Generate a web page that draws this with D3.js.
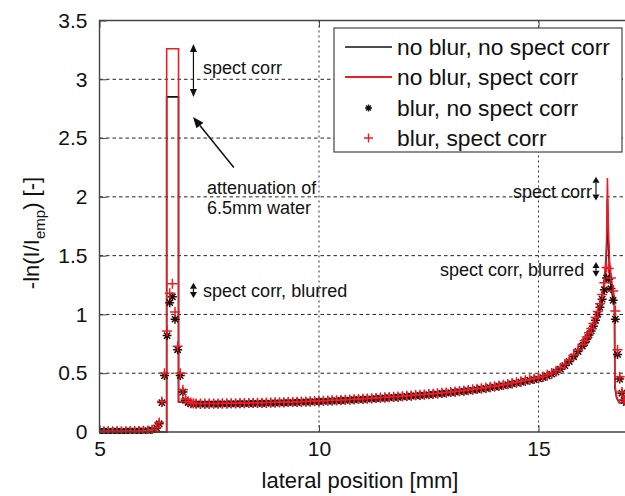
<!DOCTYPE html>
<html><head><meta charset="utf-8">
<script src="https://cdn.jsdelivr.net/npm/d3@7"></script>
<style>html,body{margin:0;padding:0;background:#fff;}svg{display:block;}text{font-family:"Liberation Sans",Arial,Helvetica,sans-serif;fill:#111;}</style>
</head><body>
<script>
// ---- data ----
const xTicks = [5, 10, 15];
const yTicks = [0, 0.5, 1, 1.5, 2, 2.5, 3, 3.5];
const xGrid = [10, 15];
const yGrid = [0.5, 1, 1.5, 2, 2.5, 3];
const seriesNames = ["no blur, no spect corr", "no blur, spect corr", "blur, no spect corr", "blur, spect corr"];

// unblurred profiles (lines)
const lineX = [5.0, 6.53, 6.53, 6.80, 6.80, 7.0, 7.5, 8.0, 9.0, 10.0, 11.0, 12.0, 13.0, 14.0, 14.5, 15.0, 15.5, 15.8, 16.0, 16.2, 16.3, 16.4, 16.45, 16.5, 16.53, 16.55, 16.57, 16.59, 16.62, 16.66, 16.70, 16.73, 16.74, 16.78, 16.84, 17.0];
const lineNoCorr = [0, 0, 2.85, 2.85, 0.255, 0.255, 0.25, 0.25, 0.255, 0.265, 0.28, 0.30, 0.335, 0.385, 0.415, 0.45, 0.535, 0.63, 0.715, 0.86, 0.95, 1.05, 1.13, 1.25, 1.38, 1.52, 1.98, 1.62, 1.35, 1.22, 1.12, 1.08, 0.38, 0.29, 0.25, 0.25];
const lineCorr = [0, 0, 3.26, 3.26, 0.26, 0.26, 0.255, 0.255, 0.26, 0.27, 0.285, 0.305, 0.34, 0.39, 0.42, 0.455, 0.54, 0.64, 0.73, 0.88, 0.97, 1.08, 1.17, 1.30, 1.45, 1.60, 2.16, 1.75, 1.45, 1.30, 1.20, 1.15, 0.40, 0.30, 0.25, 0.25];

// blurred profiles (markers)
const markerX = [
  5.0, 5.1, 5.2, 5.3, 5.4, 5.5, 5.6, 5.7, 5.8, 5.9, 6.0, 6.1, 6.2, 6.3,
  6.36, 6.42, 6.48, 6.54, 6.60, 6.66, 6.72, 6.78, 6.84, 6.90, 6.96, 7.02, 7.08, 7.14,
  7.2, 7.3, 7.4, 7.5, 7.6, 7.7, 7.8, 7.9, 8.0, 8.1, 8.2, 8.3, 8.4, 8.5, 8.6, 8.7, 8.8, 8.9, 9.0,
  9.1, 9.2, 9.3, 9.4, 9.5, 9.6, 9.7, 9.8, 9.9, 10.0,
  10.1, 10.2, 10.3, 10.4, 10.5, 10.6, 10.7, 10.8, 10.9, 11.0,
  11.1, 11.2, 11.3, 11.4, 11.5, 11.6, 11.7, 11.8, 11.9, 12.0,
  12.1, 12.2, 12.3, 12.4, 12.5, 12.6, 12.7, 12.8, 12.9, 13.0,
  13.1, 13.2, 13.3, 13.4, 13.5, 13.6, 13.7, 13.8, 13.9, 14.0,
  14.1, 14.2, 14.3, 14.4, 14.5, 14.6, 14.7, 14.8, 14.9, 15.0,
  15.1, 15.2, 15.3, 15.4, 15.5, 15.6, 15.7, 15.8, 15.9, 16.0,
  16.05, 16.1, 16.15, 16.2, 16.25, 16.3, 16.35, 16.4, 16.45, 16.5,
  16.55, 16.6, 16.65, 16.7, 16.75, 16.8, 16.85, 16.9, 16.95, 17.0];
const blurNoCorr = [
  0.005, 0.005, 0.006, 0.005, 0.006, 0.005, 0.006, 0.007, 0.007, 0.008, 0.010, 0.012, 0.018, 0.035,
  0.07, 0.25, 0.48, 0.82, 1.10, 1.15, 0.96, 0.70, 0.48, 0.34, 0.27, 0.25, 0.24, 0.24,
  0.238, 0.237, 0.237, 0.237, 0.238, 0.238, 0.239, 0.239, 0.240, 0.240, 0.241, 0.241, 0.242, 0.243, 0.243, 0.244, 0.245, 0.246, 0.247,
  0.248, 0.249, 0.250, 0.251, 0.252, 0.254, 0.255, 0.256, 0.258, 0.260,
  0.261, 0.263, 0.264, 0.266, 0.268, 0.270, 0.272, 0.274, 0.276, 0.278,
  0.280, 0.282, 0.284, 0.287, 0.289, 0.291, 0.294, 0.296, 0.299, 0.302,
  0.305, 0.308, 0.311, 0.314, 0.317, 0.320, 0.324, 0.327, 0.331, 0.335,
  0.339, 0.343, 0.347, 0.351, 0.356, 0.361, 0.366, 0.371, 0.377, 0.383,
  0.389, 0.395, 0.402, 0.409, 0.416, 0.424, 0.432, 0.440, 0.446, 0.452,
  0.463, 0.476, 0.492, 0.510, 0.535, 0.565, 0.600, 0.640, 0.685, 0.730,
  0.76, 0.79, 0.825, 0.86, 0.90, 0.95, 1.00, 1.06, 1.13, 1.21,
  1.31, 1.30, 1.22, 1.12, 0.96, 0.66, 0.45, 0.33, 0.27, 0.25];
const blurCorr = [
  0.006, 0.006, 0.007, 0.006, 0.007, 0.006, 0.007, 0.008, 0.008, 0.009, 0.011, 0.013, 0.020, 0.038,
  0.08, 0.26, 0.50, 0.86, 1.18, 1.26, 1.02, 0.73, 0.50, 0.36, 0.28, 0.26, 0.25, 0.245,
  0.243, 0.242, 0.242, 0.242, 0.243, 0.243, 0.244, 0.244, 0.245, 0.245, 0.246, 0.246, 0.247, 0.248, 0.248, 0.249, 0.250, 0.251, 0.252,
  0.253, 0.254, 0.255, 0.256, 0.257, 0.259, 0.260, 0.261, 0.263, 0.265,
  0.266, 0.268, 0.269, 0.271, 0.273, 0.275, 0.277, 0.279, 0.281, 0.283,
  0.285, 0.287, 0.290, 0.293, 0.295, 0.297, 0.300, 0.302, 0.305, 0.308,
  0.311, 0.314, 0.317, 0.320, 0.323, 0.326, 0.330, 0.333, 0.337, 0.341,
  0.345, 0.349, 0.353, 0.358, 0.363, 0.368, 0.373, 0.378, 0.384, 0.390,
  0.396, 0.402, 0.409, 0.416, 0.424, 0.432, 0.440, 0.448, 0.454, 0.461,
  0.472, 0.486, 0.502, 0.521, 0.546, 0.577, 0.613, 0.654, 0.700, 0.746,
  0.777, 0.808, 0.844, 0.88, 0.922, 0.973, 1.025, 1.09, 1.17, 1.27,
  1.40, 1.39, 1.31, 1.20, 1.03, 0.70, 0.47, 0.34, 0.275, 0.255];

// ---- layout ----
const W = 625, H = 496;
const M = {left: 99.5, right: 626.3, top: 20.5, bottom: 432};
const x = d3.scaleLinear().domain([5, 17]).range([M.left, M.right]);
const y = d3.scaleLinear().domain([0, 3.5]).range([M.bottom, M.top]);
const RED = "#ec1c24", BLK = "#111";
const FONT = '"Liberation Sans",Arial,sans-serif';

const svg = d3.select("body").append("svg").attr("width", W).attr("height", H);
svg.append("rect").attr("width", W).attr("height", H).attr("fill", "#fff");

svg.append("defs").append("clipPath").attr("id", "plotclip")
  .append("rect").attr("x", M.left).attr("y", M.top - 2).attr("width", M.right - M.left).attr("height", M.bottom - M.top + 4);

// grid
const grid = svg.append("g");
grid.selectAll("line.hg").data(yGrid).join("line")
  .attr("x1", M.left).attr("x2", M.right).attr("y1", d => y(d)).attr("y2", d => y(d))
  .attr("stroke", "#222").attr("stroke-width", 1).attr("stroke-dasharray", "3.5,3");
grid.selectAll("line.vg").data(xGrid).join("line")
  .attr("x1", d => x(d)).attr("x2", d => x(d)).attr("y1", M.top).attr("y2", M.bottom)
  .attr("stroke", "#333").attr("stroke-width", 1).attr("stroke-dasharray", "2,3");

// lines
const plot = svg.append("g").attr("clip-path", "url(#plotclip)");
const lineGen = vals => d3.line().x((d, i) => x(lineX[i])).y((d, i) => y(vals[i]))(vals);
plot.append("path").attr("d", lineGen(lineNoCorr)).attr("fill", "none").attr("stroke", BLK).attr("stroke-width", 1.6);
plot.append("path").attr("d", lineGen(lineCorr)).attr("fill", "none").attr("stroke", RED).attr("stroke-width", 1.6);

// marker shapes
function asterisk(g, cx, cy, s, col, w) {
  const p = `M${cx - s},${cy}H${cx + s}M${cx},${cy - s}V${cy + s}` +
            `M${cx - s * 0.7},${cy - s * 0.7}L${cx + s * 0.7},${cy + s * 0.7}M${cx - s * 0.7},${cy + s * 0.7}L${cx + s * 0.7},${cy - s * 0.7}`;
  g.append("path").attr("d", p).attr("stroke", col).attr("stroke-width", w).attr("fill", "none");
}
function plus(g, cx, cy, s, col, w) {
  g.append("path").attr("d", `M${cx - s},${cy}H${cx + s}M${cx},${cy - s}V${cy + s}`)
    .attr("stroke", col).attr("stroke-width", w).attr("fill", "none");
}
const mk = plot.append("g");
markerX.forEach((mx, i) => asterisk(mk, x(mx), y(blurNoCorr[i]), 4.5, "#2a0a0a", 1.5));
markerX.forEach((mx, i) => plus(mk, x(mx), y(blurCorr[i]), 5, RED, 1.5));

// axes
const ax = svg.append("g");
const yAxis = d3.axisLeft(y).tickValues(yTicks).tickSize(-7).tickSizeOuter(0).tickPadding(12)
  .tickFormat(d3.format("~g"));
ax.append("g").attr("transform", `translate(${M.left},0)`).call(yAxis)
  .call(g => g.select(".domain").remove())
  .call(g => g.selectAll("line").attr("stroke", "#444"))
  .call(g => g.selectAll("text").attr("font-size", 21).attr("fill", "#111").attr("font-family", FONT));
const xAxis = d3.axisBottom(x).tickValues(xTicks).tickSize(-7).tickSizeOuter(0).tickPadding(9);
ax.append("g").attr("transform", `translate(0,${M.bottom})`).call(xAxis)
  .call(g => g.select(".domain").remove())
  .call(g => g.selectAll("line").attr("stroke", "#444"))
  .call(g => g.selectAll("text").attr("font-size", 21).attr("fill", "#111").attr("font-family", FONT));
const xTop = d3.axisTop(x).tickValues(xTicks).tickSize(-7).tickSizeOuter(0).tickFormat("");
ax.append("g").attr("transform", `translate(0,${M.top})`).call(xTop)
  .call(g => g.select(".domain").remove())
  .call(g => g.selectAll("line").attr("stroke", "#444"));

// frame
svg.append("path").attr("d", `M${M.right},${M.top}H${M.left}V${M.bottom}H${M.right}`)
  .attr("fill", "none").attr("stroke", "#444").attr("stroke-width", 1.4);

// axis labels
svg.append("text").attr("text-anchor", "middle").attr("x", 360).attr("y", 488)
  .attr("font-size", 22).text("lateral position [mm]");
const yl = svg.append("text").attr("transform", "translate(39,233) rotate(-90)")
  .attr("text-anchor", "middle").attr("font-size", 22);
yl.append("tspan").text("-ln(I/I");
yl.append("tspan").attr("font-size", 15).attr("dy", 6).text("emp");
yl.append("tspan").attr("dy", -6).text(") [-]");

// annotations
const ann = svg.append("g");
function dblArrow(xv, y1v, y2v, head) {
  const px = x(xv), a = y(y1v), b = y(y2v);
  ann.append("line").attr("x1", px).attr("x2", px).attr("y1", a + head).attr("y2", b - head)
    .attr("stroke", "#111").attr("stroke-width", 1.2);
  ann.append("path").attr("d", `M${px},${a}L${px - 3.5},${a + head}L${px + 3.5},${a + head}Z`).attr("fill", "#111");
  ann.append("path").attr("d", `M${px},${b}L${px - 3.5},${b - head}L${px + 3.5},${b - head}Z`).attr("fill", "#111");
}
dblArrow(7.14, 3.3, 2.85, 8);
ann.append("text").attr("x", x(7.36)).attr("y", y(3.10)).attr("dy", "0.35em").attr("font-size", 18).text("spect corr");
// pointer arrow to black peak
{
  const x0 = x(8.06), y0 = y(2.25), x1 = x(7.13), y1 = y(2.68);
  const ang = Math.atan2(y1 - y0, x1 - x0), L = 11, Wd = 4.5;
  const bx = x1 - L * Math.cos(ang), by = y1 - L * Math.sin(ang);
  ann.append("line").attr("x1", x0).attr("y1", y0).attr("x2", bx).attr("y2", by).attr("stroke", "#111").attr("stroke-width", 1.5);
  ann.append("path").attr("d", `M${x1},${y1}L${bx + Wd * Math.sin(ang)},${by - Wd * Math.cos(ang)}L${bx - Wd * Math.sin(ang)},${by + Wd * Math.cos(ang)}Z`).attr("fill", "#111");
}
ann.append("text").attr("x", x(7.45)).attr("y", y(2.075)).attr("dy", "0.35em").attr("font-size", 18).text("attenuation of");
ann.append("text").attr("x", x(7.45)).attr("y", y(1.905)).attr("dy", "0.35em").attr("font-size", 18).text("6.5mm water");
dblArrow(7.14, 1.27, 1.14, 6);
ann.append("text").attr("x", x(7.36)).attr("y", y(1.2)).attr("dy", "0.35em").attr("font-size", 18).text("spect corr, blurred");
dblArrow(16.31, 2.17, 1.97, 6);
ann.append("text").attr("x", x(16.22)).attr("y", y(2.04)).attr("dy", "0.35em").attr("text-anchor", "end").attr("font-size", 18).text("spect corr");
dblArrow(16.31, 1.445, 1.32, 6);
ann.append("text").attr("x", x(16.04)).attr("y", y(1.38)).attr("dy", "0.35em").attr("text-anchor", "end").attr("font-size", 18).text("spect corr, blurred");

// legend
const lg = svg.append("g");
lg.append("rect").attr("x", 334).attr("y", 28).attr("width", 288).attr("height", 124)
  .attr("fill", "#fff").attr("stroke", "#444").attr("stroke-width", 1.2);
const rowY = [47, 77, 108, 138];
lg.append("line").attr("x1", 345).attr("x2", 392).attr("y1", rowY[0]).attr("y2", rowY[0]).attr("stroke", BLK).attr("stroke-width", 1.6);
lg.append("line").attr("x1", 345).attr("x2", 392).attr("y1", rowY[1]).attr("y2", rowY[1]).attr("stroke", RED).attr("stroke-width", 1.8);
asterisk(lg, 368.5, rowY[2], 3.5, BLK, 1.4);
plus(lg, 368.5, rowY[3], 4.5, RED, 1.4);
seriesNames.forEach((n, i) => lg.append("text").attr("x", 397).attr("y", rowY[i]).attr("dy", "0.35em")
  .attr("font-size", 22.8).text(n));
</script>
</body></html>
